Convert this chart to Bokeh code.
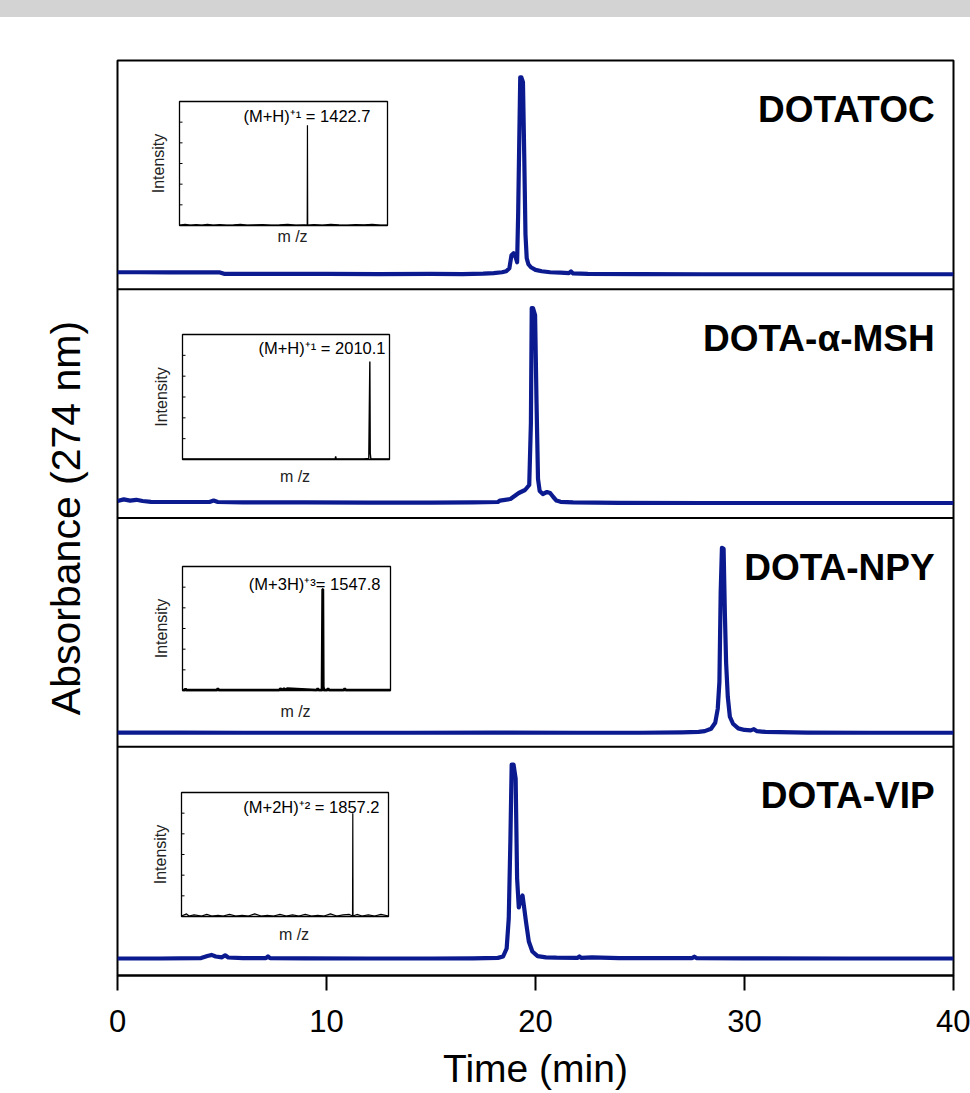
import math
from bokeh.plotting import figure
from bokeh.models import Range1d, LinearAxis, FixedTicker, Span, Div
from bokeh.layouts import column
from bokeh.embed import file_html
from bokeh.resources import INLINE
from bokeh.core.properties import value

# ---------------- data ----------------
x_ticks = [0, 10, 20, 30, 40]
panel_names = ["DOTATOC", "DOTA-\u03b1-MSH", "DOTA-NPY", "DOTA-VIP"]

# HPLC chromatograms: time (min), absorbance (arb.)
t1 = [0, 1, 2.5, 4, 4.9, 5.1, 7, 10, 12.5, 15, 16.5, 17.5, 18.0, 18.4, 18.6, 18.75, 18.85, 18.95, 19.05,
      19.12, 19.17, 19.22, 19.27, 19.32, 19.4, 19.46, 19.52, 19.58, 19.66, 19.78, 20.0, 20.3, 20.7, 21.2,
      21.6, 21.7, 21.8, 22.5, 25, 28, 32, 36, 40]
a1 = [0.010, 0.010, 0.009, 0.009, 0.009, 0.002, 0.002, 0.002, 0.001, 0.002, 0.001, 0.003, 0.006, 0.010,
      0.015, 0.030, 0.095, 0.105, 0.085, 0.060, 0.300, 0.650, 0.985, 0.985, 0.960, 0.600, 0.200, 0.080,
      0.050, 0.035, 0.022, 0.015, 0.010, 0.008, 0.006, 0.014, 0.004, 0.002, 0.001, 0.0, 0.0, 0.0, 0.0]

t2 = [0, 0.3, 0.6, 0.9, 1.2, 1.6, 3, 4.4, 4.6, 4.8, 6, 9, 12, 15, 17, 18.2, 18.3, 18.8, 19.2, 19.5, 19.7,
      19.78, 19.82, 19.88, 19.98, 20.05, 20.12, 20.2, 20.35, 20.55, 20.7, 20.85, 21.0, 21.2, 21.8, 24, 28,
      32, 36, 40]
a2 = [0.010, 0.018, 0.012, 0.016, 0.010, 0.006, 0.005, 0.005, 0.012, 0.005, 0.003, 0.003, 0.002, 0.002,
      0.003, 0.005, 0.012, 0.020, 0.050, 0.065, 0.090, 0.400, 0.975, 0.975, 0.940, 0.500, 0.120, 0.060,
      0.045, 0.055, 0.050, 0.030, 0.012, 0.006, 0.003, 0.001, 0.0, 0.0, 0.0, 0.0]

t3 = [0, 3, 6, 10, 14, 18, 22, 25, 27, 27.8, 28.1, 28.4, 28.6, 28.72, 28.8, 28.86, 28.92, 29.0, 29.06,
      29.12, 29.2, 29.3, 29.45, 29.7, 30.0, 30.3, 30.45, 30.6, 31, 33, 36, 40]
a3 = [0.001, 0.001, 0.0, 0.0, 0.0, 0.001, 0.0, 0.0, 0.002, 0.004, 0.008, 0.020, 0.050, 0.120, 0.255,
      0.700, 0.925, 0.920, 0.600, 0.350, 0.180, 0.080, 0.045, 0.022, 0.014, 0.012, 0.018, 0.008, 0.004,
      0.001, 0.0, 0.0]

t4 = [0, 2, 4.0, 4.3, 4.5, 4.7, 5.0, 5.15, 5.3, 6, 7.1, 7.2, 7.3, 9, 12, 15, 17, 18.2, 18.45, 18.62,
      18.72, 18.8, 18.86, 18.95, 19.05, 19.12, 19.2, 19.3, 19.38, 19.45, 19.55, 19.68, 19.85, 20.1, 20.5,
      21, 22.0, 22.1, 22.2, 22.7, 24, 27.5, 27.6, 27.7, 30, 35, 40]
a4 = [0.0, 0.0, 0.002, 0.012, 0.018, 0.010, 0.006, 0.016, 0.005, 0.002, 0.002, 0.010, 0.002, 0.001, 0.0,
      0.0, 0.001, 0.003, 0.010, 0.050, 0.200, 0.600, 0.970, 0.970, 0.900, 0.400, 0.255, 0.300, 0.315,
      0.260, 0.180, 0.085, 0.035, 0.012, 0.006, 0.004, 0.003, 0.010, 0.003, 0.006, 0.002, 0.002, 0.009,
      0.002, 0.001, 0.0, 0.0]

# Mass spectra (insets): m/z, intensity
ms_labels = ["(M+H)\u207a\u00b9 = 1422.7", "(M+H)\u207a\u00b9 = 2010.1",
             "(M+3H)\u207a\u00b3= 1547.8", "(M+2H)\u207a\u00b2 = 1857.2"]
ms_ranges = [(500, 2000), (200, 2200), (400, 2100), (500, 2140)]
ms_int_range = (0, 120)
ms_int_ticks = [20, 40, 60, 80, 100]

ms1_mz = [500, 540, 580, 620, 660, 700, 745, 790, 840, 890, 940, 990, 1040, 1100, 1160, 1220, 1280, 1340,
          1400, 1421, 1422.7, 1424.5, 1470, 1530, 1590, 1650, 1710, 1770, 1830, 1890, 1950, 2000]
ms1_i = [0.3, 1.0, 0.5, 0.8, 0.3, 1.0, 0.3, 0.8, 0.3, 0.6, 1.0, 0.3, 0.6, 0.8, 0.3, 0.6, 1.0, 0.3, 0.6, 0.3,
         97, 0.3, 0.8, 0.3, 1.0, 0.6, 0.3, 0.8, 0.6, 1.0, 0.3, 0.3]

ms2_mz = [200, 400, 600, 800, 1000, 1200, 1400, 1600, 1675, 1680, 1685, 1800, 1950, 2000, 2010.1, 2014,
          2020, 2100, 2200]
ms2_i = [0.5, 0.5, 0.5, 0.5, 0.5, 0.5, 0.5, 0.5, 0.5, 3.0, 0.5, 0.5, 0.5, 1.0, 94, 6, 0.5, 0.5, 0.5]

ms3_mz = [400, 420, 425, 430, 680, 689, 698, 1190, 1200, 1215, 1230, 1245, 1255, 1495, 1505, 1515, 1540,
          1545, 1547.8, 1551, 1556, 1580, 1590, 1600, 1716, 1726, 1736, 2100]
ms3_i = [0.5, 0.5, 2.0, 0.5, 0.5, 2.0, 0.5, 0.5, 2.0, 0.5, 2.0, 0.5, 2.0, 0.5, 2.0, 0.5, 0.5, 98, 98, 4,
         0.5, 0.5, 2.0, 0.5, 0.5, 2.0, 0.5, 0.5]

ms4_mz = [500, 540, 560, 600, 660, 700, 740, 790, 830, 880, 930, 980, 1030, 1080, 1130, 1180, 1230, 1280,
          1330, 1380, 1430, 1480, 1530, 1580, 1630, 1680, 1730, 1780, 1830, 1855, 1857.2, 1859, 1890, 1930,
          1980, 2030, 2080, 2140]
ms4_i = [0.5, 2.5, 0.5, 1.5, 0.5, 2, 0.5, 1, 0.5, 2, 0.5, 1, 0.5, 2.5, 0.5, 1, 0.5, 2, 0.5, 1.5, 0.5,
         2, 0.5, 1, 0.5, 2.5, 0.5, 1.5, 2, 0.5, 100, 0.5, 2, 0.5, 1.5, 0.5, 2, 0.5]

chrom_t = [t1, t2, t3, t4]
chrom_a = [a1, a2, a3, a4]
ms_mz = [ms1_mz, ms2_mz, ms3_mz, ms4_mz]
ms_int = [ms1_i, ms2_i, ms3_i, ms4_i]

# ---------------- layout ----------------
BAR_H = 17
W, H = 970, 1076
FL, FR, FT, FB = 117, 17, 43, 118
frame_w = W - FL - FR
frame_h = H - FT - FB
SX0, SY1 = FL, BAR_H + FT + frame_h  # screen coords of frame left / bottom
BLUE = "#0b1a8f"
FONT = "Liberation Sans"


def fx(X):
    return (X - SX0) / frame_w


def fy(Y):
    return (SY1 - Y) / frame_h


def rng(d0, d1, f0, f1):
    span = (d1 - d0) / (f1 - f0)
    s = d0 - f0 * span
    return Range1d(start=s, end=s + span)


p = figure(width=W, height=H, x_range=Range1d(0, 40), y_range=Range1d(0, 4),
           output_backend="svg", toolbar_location=None,
           x_axis_location=None, y_axis_location=None,
           min_border_left=FL, min_border_right=FR, min_border_top=FT, min_border_bottom=FB)
p.outline_line_color = "black"
p.outline_line_width = 2
p.background_fill_color = "white"
p.border_fill_color = "white"
p.xgrid.grid_line_color = None
p.ygrid.grid_line_color = None

xaxis = LinearAxis(ticker=FixedTicker(ticks=x_ticks), axis_line_width=2, axis_line_color="black",
                   major_tick_line_width=2, major_tick_out=15, major_tick_in=0,
                   minor_tick_out=0, minor_tick_in=0,
                   major_label_text_font=FONT, major_label_text_font_size="31px",
                   major_label_text_color="black", major_label_standoff=19,
                   axis_label="Time (min)", axis_label_text_font=FONT,
                   axis_label_text_font_size="39px", axis_label_text_font_style="normal",
                   axis_label_text_color="black", axis_label_standoff=12)
p.add_layout(xaxis, "below")

yaxis = LinearAxis(ticker=FixedTicker(ticks=[]), axis_line_color=None,
                   major_tick_out=0, major_tick_in=0, minor_tick_out=0, minor_tick_in=0,
                   major_label_text_font_size="1px",
                   axis_label="Absorbance (274 nm)", axis_label_text_font=FONT,
                   axis_label_text_font_size="41px", axis_label_text_font_style="normal",
                   axis_label_text_color="black", axis_label_standoff=29)
p.add_layout(yaxis, "left")

for loc in [1, 2, 3]:
    p.add_layout(Span(location=loc, dimension="width", line_color="black", line_width=2))

panel_px = frame_h / 4
base_off_px = [15, 15, 14, 17]
for i in range(4):
    lo = -base_off_px[i] / 200.0
    hi = lo + panel_px / 200.0
    name = f"c{i}"
    p.extra_y_ranges[name] = rng(lo, hi, (3 - i) / 4, (4 - i) / 4)
    p.line(chrom_t[i], chrom_a[i], y_range_name=name, line_color=BLUE, line_width=4.2,
           line_join="round")
    p.text(x=[39.1], y=[hi - 49 / 200.0], text=[panel_names[i]], y_range_name=name,
           text_font=value(FONT), text_font_size=value("37px"), text_font_style="bold",
           text_align="right", text_baseline="alphabetic", text_color="black")

# insets
inset_box = [(179, 387, 101, 225), (182, 389, 334, 459), (182, 390, 566, 690), (181, 388, 792, 916)]
ann_gap = [17, 4, 10, 9]
ann_drop = [14, 13, 17, 14]
mz_below = [11, 17, 21, 18]
ms_width = [1.2, 1.4, 2.6, 1.2]
for i in range(4):
    L, R, T, B = inset_box[i]
    m0, m1 = ms_ranges[i]
    i0, i1 = ms_int_range
    xn, yn = f"m{i}", f"s{i}"
    p.extra_x_ranges[xn] = rng(m0, m1, fx(L), fx(R))
    p.extra_y_ranges[yn] = rng(i0, i1, fy(B), fy(T))
    sx = (m1 - m0) / (R - L)
    sy = (i1 - i0) / (B - T)
    kw = dict(x_range_name=xn, y_range_name=yn)
    p.quad(left=[m0], right=[m1], bottom=[i0], top=[i1], fill_color=None, line_color="black",
           line_width=1.3, **kw)
    p.segment(x0=[m0] * len(ms_int_ticks), y0=ms_int_ticks, x1=[m0 + 3 * sx] * len(ms_int_ticks),
              y1=ms_int_ticks, line_color="black", line_width=1, **kw)
    p.line(ms_mz[i], ms_int[i], line_color="black", line_width=ms_width[i], **kw)
    p.text(x=[m1 - ann_gap[i] * sx], y=[i1 - ann_drop[i] * sy], text=[ms_labels[i]],
           text_font=value(FONT), text_font_size=value("16.5px"), text_align="right",
           text_baseline="middle", text_color="black", **kw)
    p.text(x=[m0 - 21 * sx], y=[(i0 + i1) / 2], text=["Intensity"], angle=math.pi / 2,
           text_font=value(FONT), text_font_size=value("16px"), text_align="center",
           text_baseline="middle", text_color="#222222", **kw)
    p.text(x=[(m0 + m1) / 2 + 9 * sx], y=[i0 - mz_below[i] * sy], text=["m /z"],
           text_font=value(FONT), text_font_size=value("16px"), text_align="center",
           text_baseline="middle", text_color="#222222", **kw)

bar = Div(text="", width=W, height=BAR_H, margin=(0, 0, 0, 0),
          styles={"background-color": "#d3d3d3"})
layout = column(bar, p, spacing=0)

open("out.html", "w").write(file_html(layout, INLINE))
